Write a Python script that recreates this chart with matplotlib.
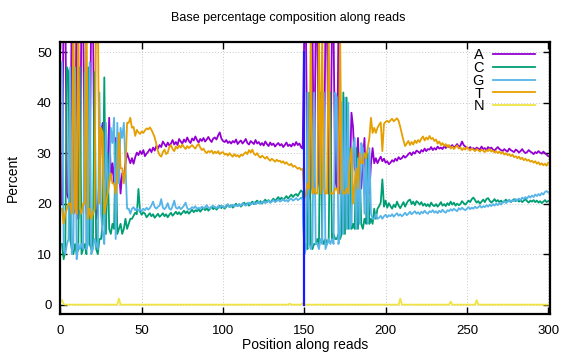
import matplotlib
matplotlib.use("Agg")
import matplotlib.pyplot as plt

plt.rcParams['font.family'] = ['Liberation Sans', 'DejaVu Sans']

# cycle positions along the reads (1..300)
positions = list(range(1, 301))

# A (purple)
pct_a = [
    20, 62, 60, 22, 21, 20, 61, 18, 22, 63,
    17, 23, 60, 58, 22, 18, 24, 21, 62, 59,
    22, 17, 19, 25, 34, 36, 25, 30, 26, 37,
    25, 28, 24, 33, 25, 27, 22, 26, 25, 28,
    30, 29, 28, 29, 27.9, 29.2, 30.1, 29.6, 30.4, 29.8,
    30.6, 29.4, 29.9, 30.3, 30.8, 30.2, 31.1, 30.5, 31.4, 30.9,
    31.6, 31.2, 32.3, 31.8, 31.3, 32.1, 31.5, 31.9, 32.6, 31.7,
    32.2, 31.6, 32.8, 32.3, 31.9, 32.7, 32.2, 33.1, 32.4, 32.0,
    32.9, 32.5, 33.3, 32.6, 32.1, 32.8, 32.4, 33.0, 32.3, 32.7,
    33.2, 32.6, 32.2, 32.9, 33.1, 32.7, 33.5, 34.1, 32.9, 32.4,
    32.2, 32.6, 32.0, 32.3, 31.9, 32.4, 32.1, 32.7, 31.8, 32.2,
    32.5, 31.9, 32.3, 32.8, 32.0, 31.7, 32.4, 32.1, 31.8, 32.6,
    31.9, 32.2, 31.6, 32.0, 31.5, 32.3, 31.8, 31.4, 32.1, 31.6,
    31.9, 31.3, 31.7, 32.0, 31.5, 31.8, 31.2, 31.6, 32.1, 31.4,
    31.7, 31.3, 31.9, 31.5, 32.2, 31.6, 31.9, 31.2, 30.9, 55,
    55, 22, 21, 23, 56, 22, 55, 55, 24, 22,
    25, 23, 55, 56, 22, 24, 55, 54, 25, 23,
    55, 22, 25, 24, 28, 22, 26, 25, 38, 35,
    27, 26, 33, 24, 23, 28, 33, 22, 24, 22,
    28, 31, 28, 29, 28, 28.7, 29.3, 28.4, 28.9, 28.1,
    28.4, 27.8, 28.1, 28.6, 28.3, 28.9, 28.5, 29.2, 28.8, 29.0,
    29.5, 29.1, 29.4, 29.8, 30.1, 29.6, 30.2, 29.9, 30.5, 30.3,
    30.0, 30.6, 30.3, 30.9, 30.4, 30.8, 30.7, 31.2, 30.6, 31.0,
    30.7, 31.3, 30.9, 31.1, 30.8, 31.4, 31.0, 31.5, 31.2, 31.3,
    31.6, 31.1, 31.4, 31.8, 31.2, 31.5, 32.3, 31.6, 31.3, 31.1,
    30.9, 31.2, 30.8, 31.0, 30.7, 31.1, 30.9, 30.7, 31.3, 30.8,
    31.0, 30.6, 31.2, 30.9, 31.1, 30.7, 30.5, 30.9, 31.2, 30.8,
    30.6, 30.4, 30.8, 30.5, 30.3, 30.9, 30.6, 30.4, 30.2, 30.7,
    30.5, 30.1, 30.4, 30.8, 30.3, 30.0, 30.2, 30.6, 30.3, 30.1,
    29.8, 30.2, 30.0, 30.4, 30.1, 29.9, 30.3, 30.0, 29.7, 29.4,
]

# C (green)
pct_c = [
    12, 9, 11, 47, 46, 13, 11, 10, 12, 10,
    11, 47, 10, 11, 12, 10, 47, 12, 11, 12,
    46, 11, 10, 13, 13, 16, 45, 14, 30, 15,
    14, 16, 15, 32, 14, 15, 16, 14, 15, 17,
    15, 16, 17, 17, 17.6, 18.2, 17.9, 22.9, 18.4, 17.8,
    18.3, 18.0, 17.3, 17.7, 18.1, 17.5, 17.9, 17.2, 17.6, 18.0,
    17.4, 17.7, 18.1, 17.5, 17.9, 17.3, 17.8, 18.2, 17.6, 18.0,
    18.4, 17.9, 18.3, 17.8, 18.2, 18.6, 18.1, 18.5, 18.0, 18.4,
    18.8, 18.3, 18.7, 18.5, 18.9, 18.4, 18.8, 19.2, 18.7, 19.1,
    18.6, 19.0, 19.4, 18.9, 19.3, 18.8, 19.2, 19.6, 19.1, 19.5,
    19.0, 19.4, 19.8, 19.3, 19.7, 19.2, 19.6, 20.0, 19.5, 19.9,
    19.4, 19.8, 20.2, 19.7, 20.1, 19.6, 20.0, 20.4, 19.9, 20.3,
    20.6, 20.1, 20.5, 20.0, 20.4, 20.8, 20.3, 20.7, 20.2, 20.6,
    21.0, 20.5, 20.9, 21.3, 20.8, 21.2, 20.7, 21.1, 21.5, 21.0,
    21.4, 21.8, 21.3, 21.7, 21.9, 21.5, 22.1, 22.6, 22.3, 11,
    12, 11, 42, 12, 11, 12, 12, 13, 12, 42,
    13, 12, 13, 12, 13, 42, 13, 14, 13, 13,
    14, 13, 14, 42, 14, 41, 15, 31, 15, 16,
    15, 31, 15, 28, 16, 15, 17, 16, 30, 16,
    17, 16, 19, 17, 19, 19.5, 20.2, 24.8, 19.4, 20.6,
    19.2, 20.1, 19.5, 19.0, 19.8, 19.3, 20.4, 19.6, 19.1, 19.7,
    20.3, 19.4, 20.1, 20.6, 20.8, 19.9, 20.4, 19.7, 20.5, 20.2,
    19.8, 20.3, 19.6, 20.0, 19.5, 19.9, 19.4, 20.2, 19.7, 19.5,
    19.9, 19.4, 19.8, 20.3, 19.6, 19.9, 19.5, 20.1, 19.7, 20.4,
    19.8, 20.2, 19.6, 20.0, 19.7, 19.9, 20.5, 20.1, 19.8, 20.2,
    20.6, 20.3, 20.9, 21.2, 20.7, 20.2, 20.5, 20.0, 20.4, 20.8,
    20.3, 20.9, 21.1, 20.6, 20.2, 20.5, 20.9, 20.4, 20.7, 20.3,
    20.6, 20.2, 20.5, 20.8, 20.4, 20.7, 20.3, 20.6, 20.9, 20.5,
    20.8, 20.4, 20.7, 20.3, 20.6, 20.9, 20.5, 20.2, 20.6, 20.4,
    20.7, 20.3, 20.6, 20.2, 20.5, 20.1, 20.4, 20.7, 20.3, 20.5,
]

# G (light blue)
pct_g = [
    48, 11, 10, 12, 13, 47, 10, 12, 47, 9,
    12, 11, 12, 11, 46, 11, 12, 48, 10, 11,
    13, 12, 11, 42, 18, 14, 12, 36, 22, 24,
    35, 32, 37, 13, 36, 24, 35, 33, 36, 28,
    19, 19, 18, 19, 19.3, 18.7, 19.1, 18.6, 18.9, 18.5,
    19.0, 18.7, 19.2, 18.8, 19.1, 19.7, 20.4, 19.3, 19.0, 19.4,
    19.6, 20.9, 19.2, 18.9, 19.3, 20.1, 19.0, 18.8, 19.5, 20.6,
    19.2, 19.0, 19.4, 18.9, 19.2, 19.6, 20.2, 19.1, 18.8, 19.0,
    19.3, 19.1, 19.5, 18.9, 19.2, 19.0, 19.4, 19.1, 19.3, 19.7,
    19.2, 19.0, 19.4, 19.6, 19.3, 19.1, 19.5, 19.2, 19.6, 19.4,
    19.2, 19.7, 19.9, 19.3, 19.5, 19.8, 19.4, 19.7, 19.5, 19.9,
    19.6, 20.1, 19.8, 19.6, 19.9, 20.2, 19.8, 20.0, 20.3, 19.9,
    20.1, 20.4, 20.0, 20.2, 20.5, 20.1, 20.3, 20.6, 20.2, 20.4,
    20.7, 20.3, 20.5, 20.8, 20.4, 20.6, 20.9, 20.5, 20.7, 20.4,
    20.8, 21.0, 20.6, 20.8, 21.1, 20.7, 20.9, 21.2, 20.8, 10,
    11, 42, 12, 11, 12, 42, 12, 12, 11, 13,
    12, 42, 11, 12, 13, 12, 13, 12, 42, 41,
    12, 14, 40, 14, 41, 15, 40, 15, 16, 31,
    33, 15, 29, 16, 32, 31, 18, 30, 16, 31,
    18, 17, 17, 18, 17, 17.2, 17.6, 17.0, 17.5, 17.8,
    17.3, 17.7, 17.5, 17.9, 17.4, 17.8, 18.1, 17.6, 17.9, 17.5,
    17.8, 18.2, 17.7, 18.0, 18.4, 17.9, 18.2, 18.5, 18.0, 18.3,
    17.9, 18.4, 18.1, 18.6, 18.2, 18.0, 18.5, 18.3, 18.7, 18.2,
    18.5, 18.1, 18.6, 18.3, 18.8, 18.4, 18.2, 18.7, 18.5, 18.9,
    18.6, 19.0, 18.7, 18.5, 19.1, 18.8, 19.2, 18.9, 18.7, 19.0,
    19.3, 18.9, 19.2, 19.0, 19.4, 19.1, 19.3, 19.6, 19.2, 19.5,
    19.3, 19.7, 19.4, 19.8, 19.5, 19.9, 19.6, 20.0, 19.7, 20.1,
    19.8, 20.2, 20.5, 20.1, 20.4, 20.8, 20.3, 20.7, 20.5, 20.9,
    20.6, 21.0, 20.7, 21.2, 20.9, 21.3, 21.0, 21.5, 21.2, 21.6,
    21.3, 21.8, 21.5, 21.9, 21.6, 22.1, 21.8, 22.3, 22.5, 22.2,
]

# T (orange)
pct_t = [
    19, 16, 18, 19, 20, 20, 18, 60, 19, 18,
    60, 19, 18, 20, 20, 61, 17, 19, 17, 18,
    19, 60, 60, 20, 35, 34, 18, 20, 22, 24,
    26, 24, 24, 22, 25, 34, 27, 27, 24, 27,
    36, 36, 37, 35, 35.2, 33.4, 34.6, 34.1, 33.8, 34.3,
    34.0, 34.5, 34.9, 34.7, 35.1, 34.6, 33.9, 33.1, 31.8, 30.4,
    29.6, 29.3, 30.2, 30.7, 29.8, 30.1, 31.2, 31.6, 30.8, 30.4,
    31.3, 30.9, 31.5, 31.1, 31.7, 31.2, 30.8, 31.4, 31.0, 31.3,
    31.6, 31.2, 30.9, 31.5, 31.8, 31.1, 30.6, 30.9, 30.3, 30.0,
    30.4, 30.2, 30.5, 29.9, 30.3, 30.0, 30.4, 29.8, 30.1, 30.2,
    29.7, 29.9, 29.5, 30.0, 29.6, 29.3, 29.8, 29.4, 29.6, 29.2,
    29.7, 29.5, 29.9, 30.2, 29.8, 30.6, 30.1, 30.7, 29.9, 29.6,
    30.0, 29.4, 29.1, 29.5, 29.2, 28.9, 29.3, 28.8, 28.5, 28.9,
    28.6, 28.3, 28.7, 28.4, 28.5, 28.1, 28.4, 27.9, 28.2, 27.8,
    27.6, 27.9, 27.3, 27.5, 27.2, 26.9, 27.1, 26.7, 26.9, 21,
    22, 24, 23, 55, 22, 23, 22, 22, 55, 22,
    54, 23, 22, 22, 55, 22, 22, 22, 23, 23,
    22, 54, 23, 22, 22, 23, 22, 28, 31, 20,
    24, 27, 23, 30, 28, 28, 30, 29, 31, 33,
    37, 34, 35, 34, 35, 35.6, 36.1, 30.4, 35.8, 36.2,
    36.4, 36.1, 36.5, 36.8, 36.3, 36.6, 36.9, 36.4, 35.2, 33.8,
    32.5, 31.4, 31.9, 32.4, 31.6, 32.2, 31.7, 32.5, 32.0, 32.6,
    32.2, 32.9, 33.3, 32.5, 33.1, 32.7, 33.4, 32.8, 33.0, 32.4,
    32.7, 31.9, 32.3, 31.6, 32.0, 31.4, 31.8, 31.2, 31.6, 30.9,
    31.3, 30.8, 31.2, 31.5, 30.9, 31.1, 30.6, 31.0, 30.7, 31.2,
    30.8, 30.5, 30.9, 30.7, 30.4, 30.8, 30.6, 30.3, 30.7, 30.5,
    30.2, 30.6, 30.4, 30.8, 30.3, 30.5, 30.1, 30.4, 30.0, 30.3,
    29.9, 30.2, 29.7, 30.0, 29.6, 29.8, 29.4, 29.7, 29.2, 29.4,
    29.0, 29.3, 28.8, 29.1, 28.6, 28.9, 28.5, 28.7, 28.3, 28.5,
    28.1, 28.4, 27.9, 28.2, 27.7, 28.0, 27.6, 27.9, 27.5, 28.1,
]

# N (yellow): near zero, only the small bumps listed
n_pos = [1, 2, 3, 35, 36, 37, 140, 141, 142, 148, 149, 150, 151,
         208, 209, 210, 239, 240, 241, 255, 256, 257, 300]
n_val = [0.9, 0.1, 0, 0, 1.2, 0, 0, 0.2, 0, 0, 0.3, 0, 0,
         0, 1.2, 0, 0, 0.6, 0, 0, 0.9, 0, 0]

# read1/read2 boundary marker
sep_x = [150, 150]
sep_y = [0, 50]

fig = plt.figure(figsize=(5.76, 3.6), dpi=100)
ax = fig.add_axes([60 / 576, 46 / 360, 490 / 576, 272 / 360])

lw = 1.3
ax.plot(positions, pct_a, color='#9400d3', lw=lw, label='A')
ax.plot(positions, pct_c, color='#009e73', lw=lw, label='C')
ax.plot(positions, pct_g, color='#56b4e9', lw=lw, label='G')
ax.plot(positions, pct_t, color='#e69f00', lw=lw, label='T')
ax.plot(n_pos, n_val, color='#f0e442', lw=lw, label='N')
ax.plot(sep_x, sep_y, color='#1a1aff', lw=1.6)

ax.set_xlim(-0.25, 301.1)
ax.set_ylim(-1.85, 52)
ax.set_xticks([0, 50, 100, 150, 200, 250, 300])
ax.set_yticks([0, 10, 20, 30, 40, 50])
ax.tick_params(direction='in', top=True, right=True, length=5, width=1,
               labelsize=9.5)
ax.tick_params(axis='x', pad=8)
ax.tick_params(axis='y', pad=6)
ax.grid(True, color='#c8c8c8', linestyle=(0, (1, 2)), lw=0.7)
for s in ax.spines.values():
    s.set_linewidth(1.6)

fig.text(0.5, 1 - 18 / 360, 'Base percentage composition along reads',
         fontsize=9, ha='center', va='center')
ax.set_xlabel('Position along reads', fontsize=10, labelpad=1)
ax.set_ylabel('Percent', fontsize=10, labelpad=12)

ax.legend(loc='upper right', bbox_to_anchor=(535 / 576, 1 - 48 / 360),
          bbox_transform=fig.transFigure, frameon=False, markerfirst=False,
          fontsize=10.5, handlelength=2.9, handletextpad=0.6,
          labelspacing=-0.08, borderpad=0, borderaxespad=0)

fig.savefig('out.png', dpi=100)
